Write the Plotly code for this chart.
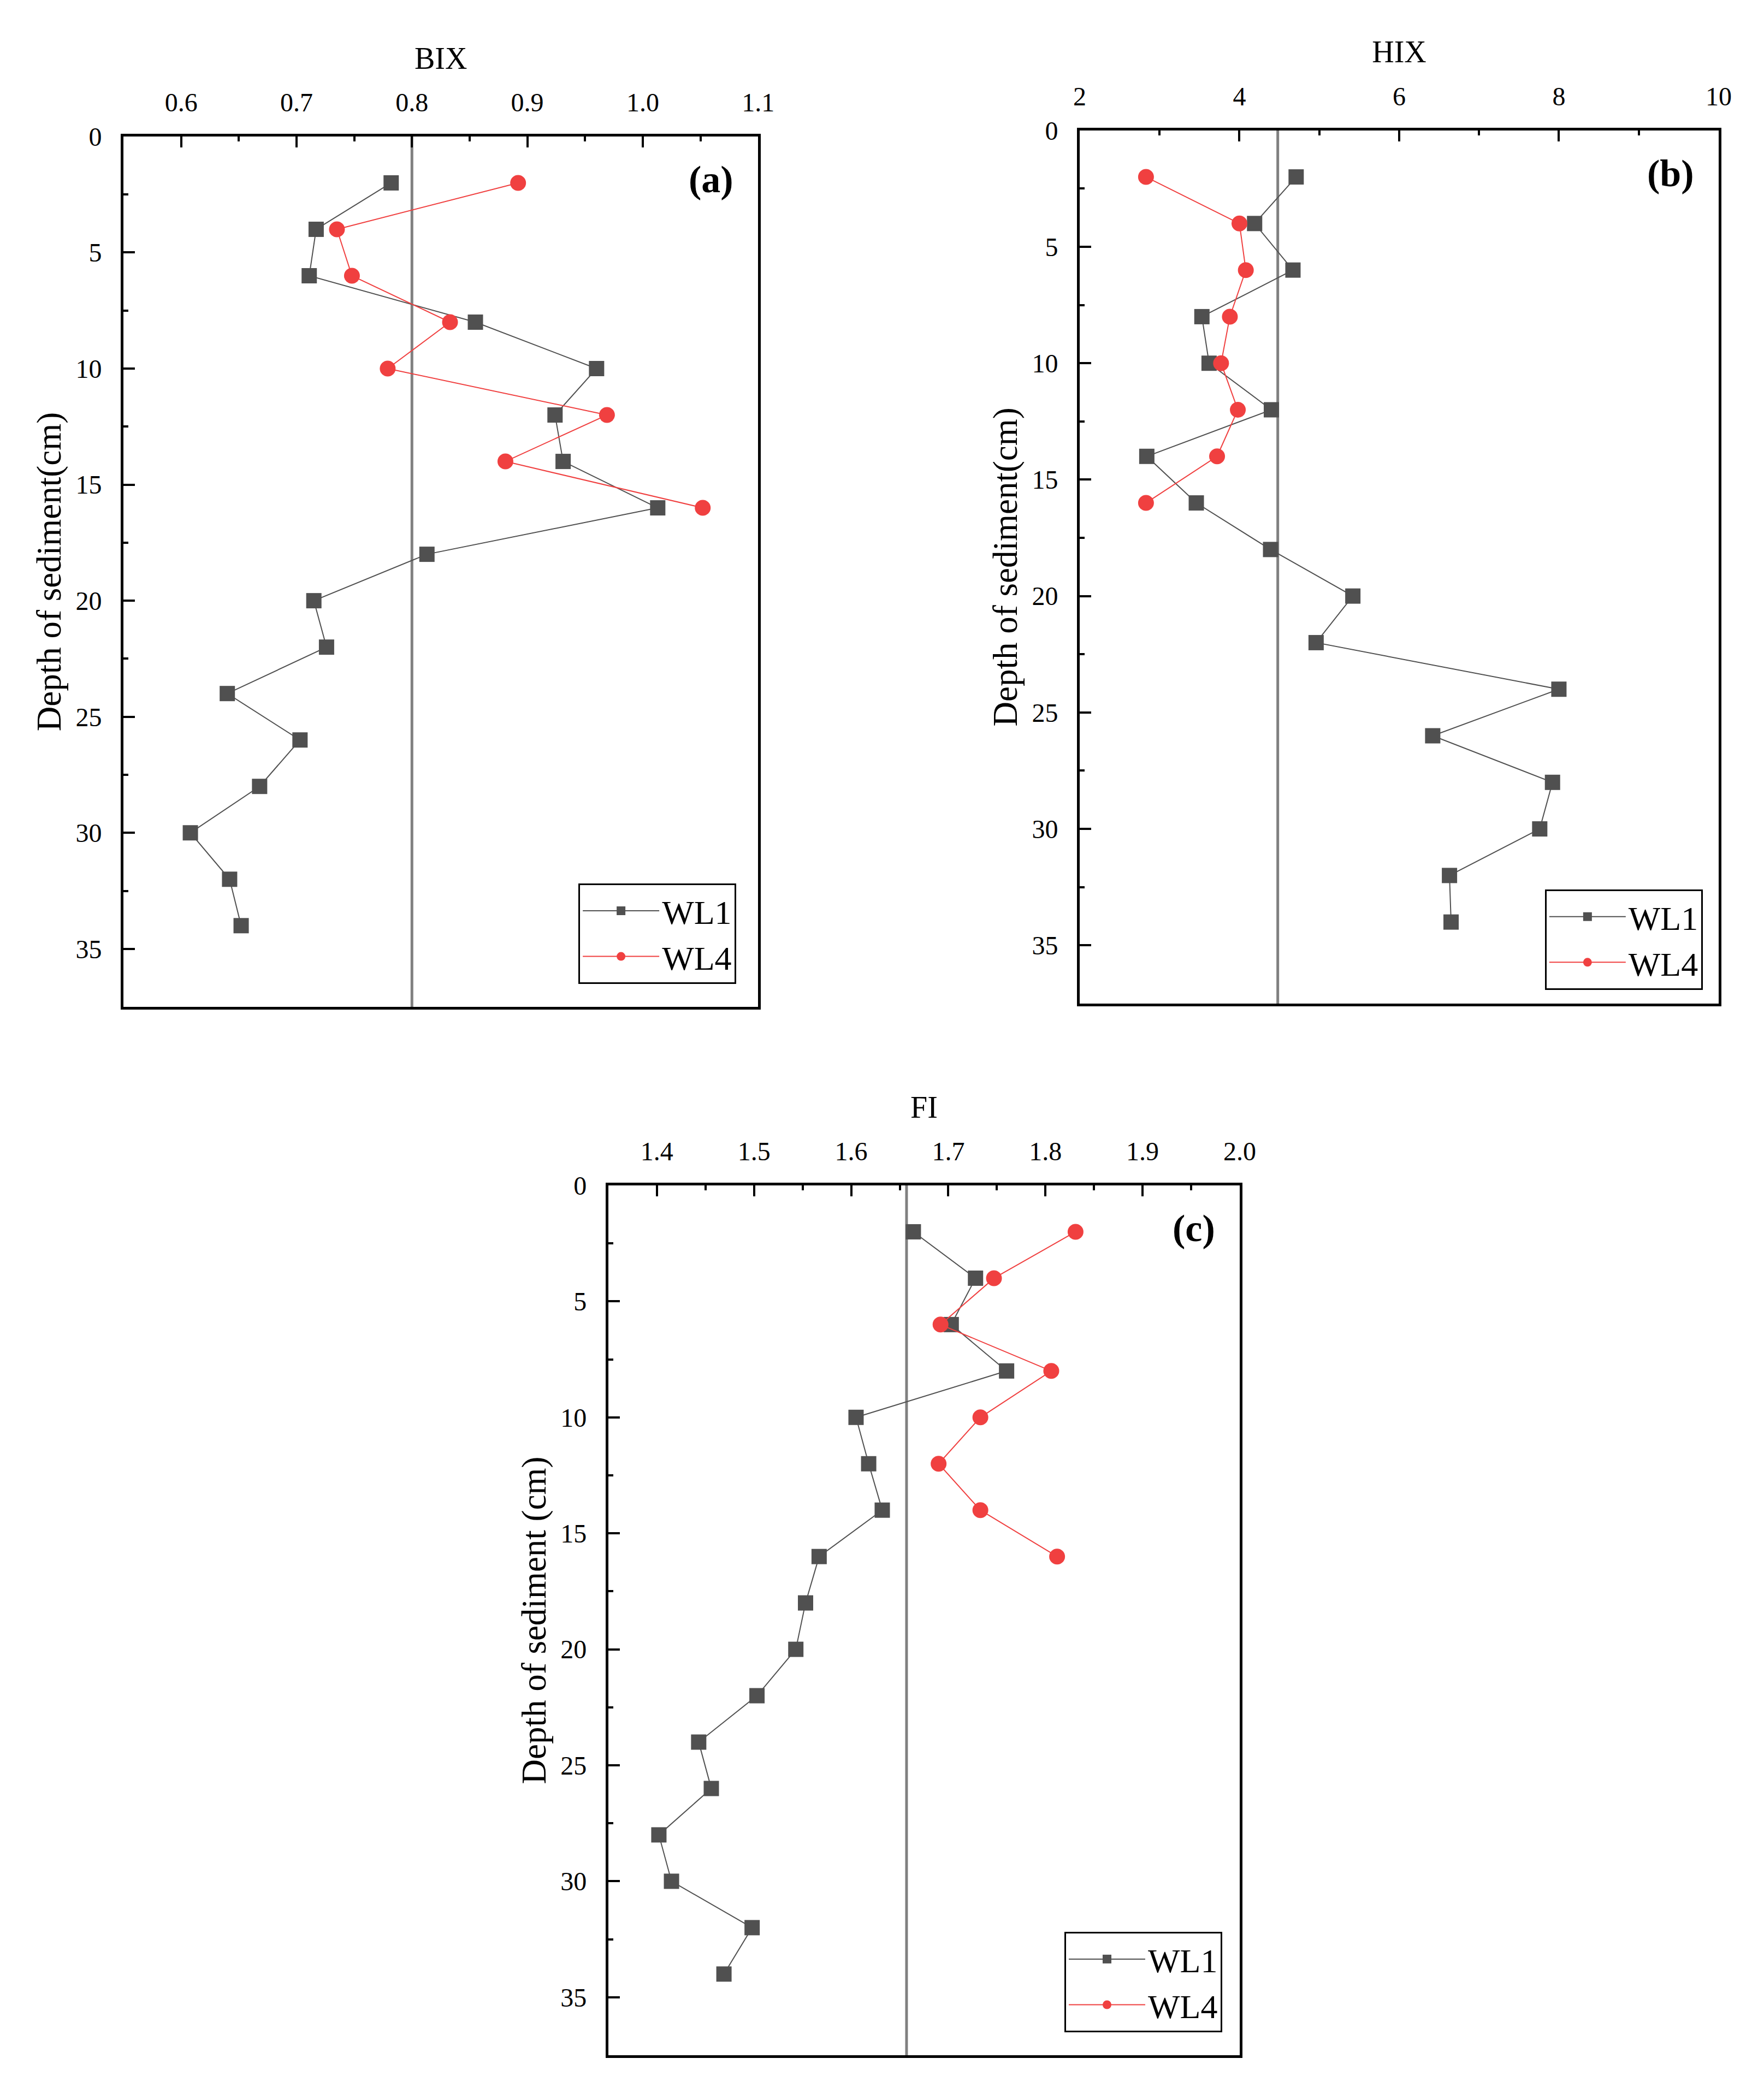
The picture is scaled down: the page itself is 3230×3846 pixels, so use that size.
import plotly.graph_objects as go

# depth (cm) shared by all profiles
depth_wl1 = [2, 4, 6, 8, 10, 12, 14, 16, 18, 20, 22, 24, 26, 28, 30, 32, 34]
depth_wl4 = [2, 4, 6, 8, 10, 12, 14, 16]

bix_wl1 = [0.782, 0.717, 0.711, 0.855, 0.960, 0.924, 0.931, 1.013, 0.813,
           0.715, 0.726, 0.640, 0.703, 0.668, 0.608, 0.642, 0.652]
bix_wl4 = [0.892, 0.735, 0.748, 0.833, 0.779, 0.969, 0.881, 1.052]

hix_wl1 = [4.71, 4.19, 4.67, 3.53, 3.62, 4.40, 2.84, 3.46, 4.39,
           5.42, 4.96, 8.00, 6.42, 7.92, 7.76, 6.63, 6.65]
hix_wl4 = [2.83, 4.00, 4.08, 3.88, 3.77, 3.98, 3.72, 2.83]

fi_wl1 = [1.664, 1.728, 1.703, 1.760, 1.605, 1.618, 1.632, 1.567, 1.553,
          1.543, 1.503, 1.443, 1.456, 1.402, 1.415, 1.498, 1.469]
fi_wl4 = [1.831, 1.747, 1.692, 1.806, 1.733, 1.690, 1.733, 1.812]

# reference values (vertical lines)
bix_ref = 0.8
hix_ref = 4.48
fi_ref = 1.657

FONT = "Liberation Serif"
C_WL1 = "#505050"
C_WL4 = "#F04040"

panels = [
    dict(name="BIX", wl1=bix_wl1, wl4=bix_wl4, ref=bix_ref, xr=[0.55, 1.1], dt=0.1, mdt=0.05, fmt=".1f",
         ytitle="Depth of sediment(cm)", label="(a)",
         xd=[0.0675, 0.4273], yd=[0.5226, 0.9371], leg=(0.4149, 0.5335)),
    dict(name="HIX", wl1=hix_wl1, wl4=hix_wl4, ref=hix_ref, xr=[2, 10], dt=2, mdt=1, fmt="d",
         ytitle="Depth of sediment(cm)", label="(b)",
         xd=[0.6096, 0.9718], yd=[0.5242, 0.9400], leg=(0.9628, 0.5307)),
    dict(name="FI", wl1=fi_wl1, wl4=fi_wl4, ref=fi_ref, xr=[1.35, 2.0], dt=0.1, mdt=0.05, fmt=".1f",
         ytitle="Depth of sediment (cm)", label="(c)",
         xd=[0.3424, 0.7003], yd=[0.0234, 0.4376], leg=(0.6904, 0.0343)),
]

fig = go.Figure()
layout = {}
for i, p in enumerate(panels):
    n = "" if i == 0 else str(i + 1)
    xa, ya = "x" + n, "y" + n
    leg = "legend" + n
    fig.add_trace(go.Scatter(
        x=p["wl1"], y=depth_wl1, xaxis=xa, yaxis=ya, name="WL1", legend=leg,
        mode="lines+markers", line=dict(color=C_WL1, width=2),
        marker=dict(symbol="square", size=28, color=C_WL1),
    ))
    fig.add_trace(go.Scatter(
        x=p["wl4"], y=depth_wl4, xaxis=xa, yaxis=ya, name="WL4", legend=leg,
        mode="lines+markers", line=dict(color=C_WL4, width=2),
        marker=dict(symbol="circle", size=29, color=C_WL4),
    ))
    fig.add_shape(type="line", xref=xa, yref=ya + " domain", x0=p["ref"], x1=p["ref"],
                  y0=0, y1=1, line=dict(color="#808080", width=5), layer="below")
    fig.add_annotation(text="<b>%s</b>" % p["label"], xref=xa + " domain", yref=ya + " domain",
                       x=0.963, y=0.951, xanchor="right", yanchor="middle", showarrow=False,
                       font=dict(family=FONT, size=70, color="black"))
    layout["xaxis" + n] = dict(
        domain=p["xd"], anchor=ya, side="top", range=p["xr"], dtick=p["dt"], tick0=0,
        tickformat=p["fmt"], ticks="inside", ticklen=20, tickwidth=4, tickcolor="black",
        minor=dict(ticks="inside", ticklen=9, tickwidth=4, dtick=p["mdt"], tickcolor="black"),
        showline=True, linewidth=5, linecolor="black", mirror=True, showgrid=False, zeroline=False,
        tickfont=dict(family=FONT, size=48, color="black"), ticklabelstandoff=22,
        title=dict(text=p["name"], font=dict(family=FONT, size=56, color="black"), standoff=18),
        automargin=False,
    )
    layout["yaxis" + n] = dict(
        domain=p["yd"], anchor=xa, range=[37.5, 0], dtick=5, tick0=0,
        ticks="inside", ticklen=21, tickwidth=4, tickcolor="black",
        minor=dict(ticks="inside", ticklen=9, tickwidth=4, dtick=2.5, tickcolor="black"),
        showline=True, linewidth=5, linecolor="black", mirror=True, showgrid=False, zeroline=False,
        tickfont=dict(family=FONT, size=48, color="black"), ticklabelstandoff=25,
        title=dict(text=p["ytitle"], font=dict(family=FONT, size=63, color="black"), standoff=8),
        automargin=False,
    )
    layout[leg] = dict(
        x=p["leg"][0], y=p["leg"][1], xanchor="right", yanchor="bottom",
        bgcolor="white", bordercolor="black", borderwidth=3,
        font=dict(family=FONT, size=62, color="black"), itemwidth=140, tracegroupgap=0,
    )

fig.update_layout(
    width=3230, height=3846,
    margin=dict(l=0, r=0, t=0, b=0, autoexpand=False),
    plot_bgcolor="white", paper_bgcolor="white",
    font=dict(family=FONT, color="black"),
    **layout,
)

fig.write_html("out.html")
